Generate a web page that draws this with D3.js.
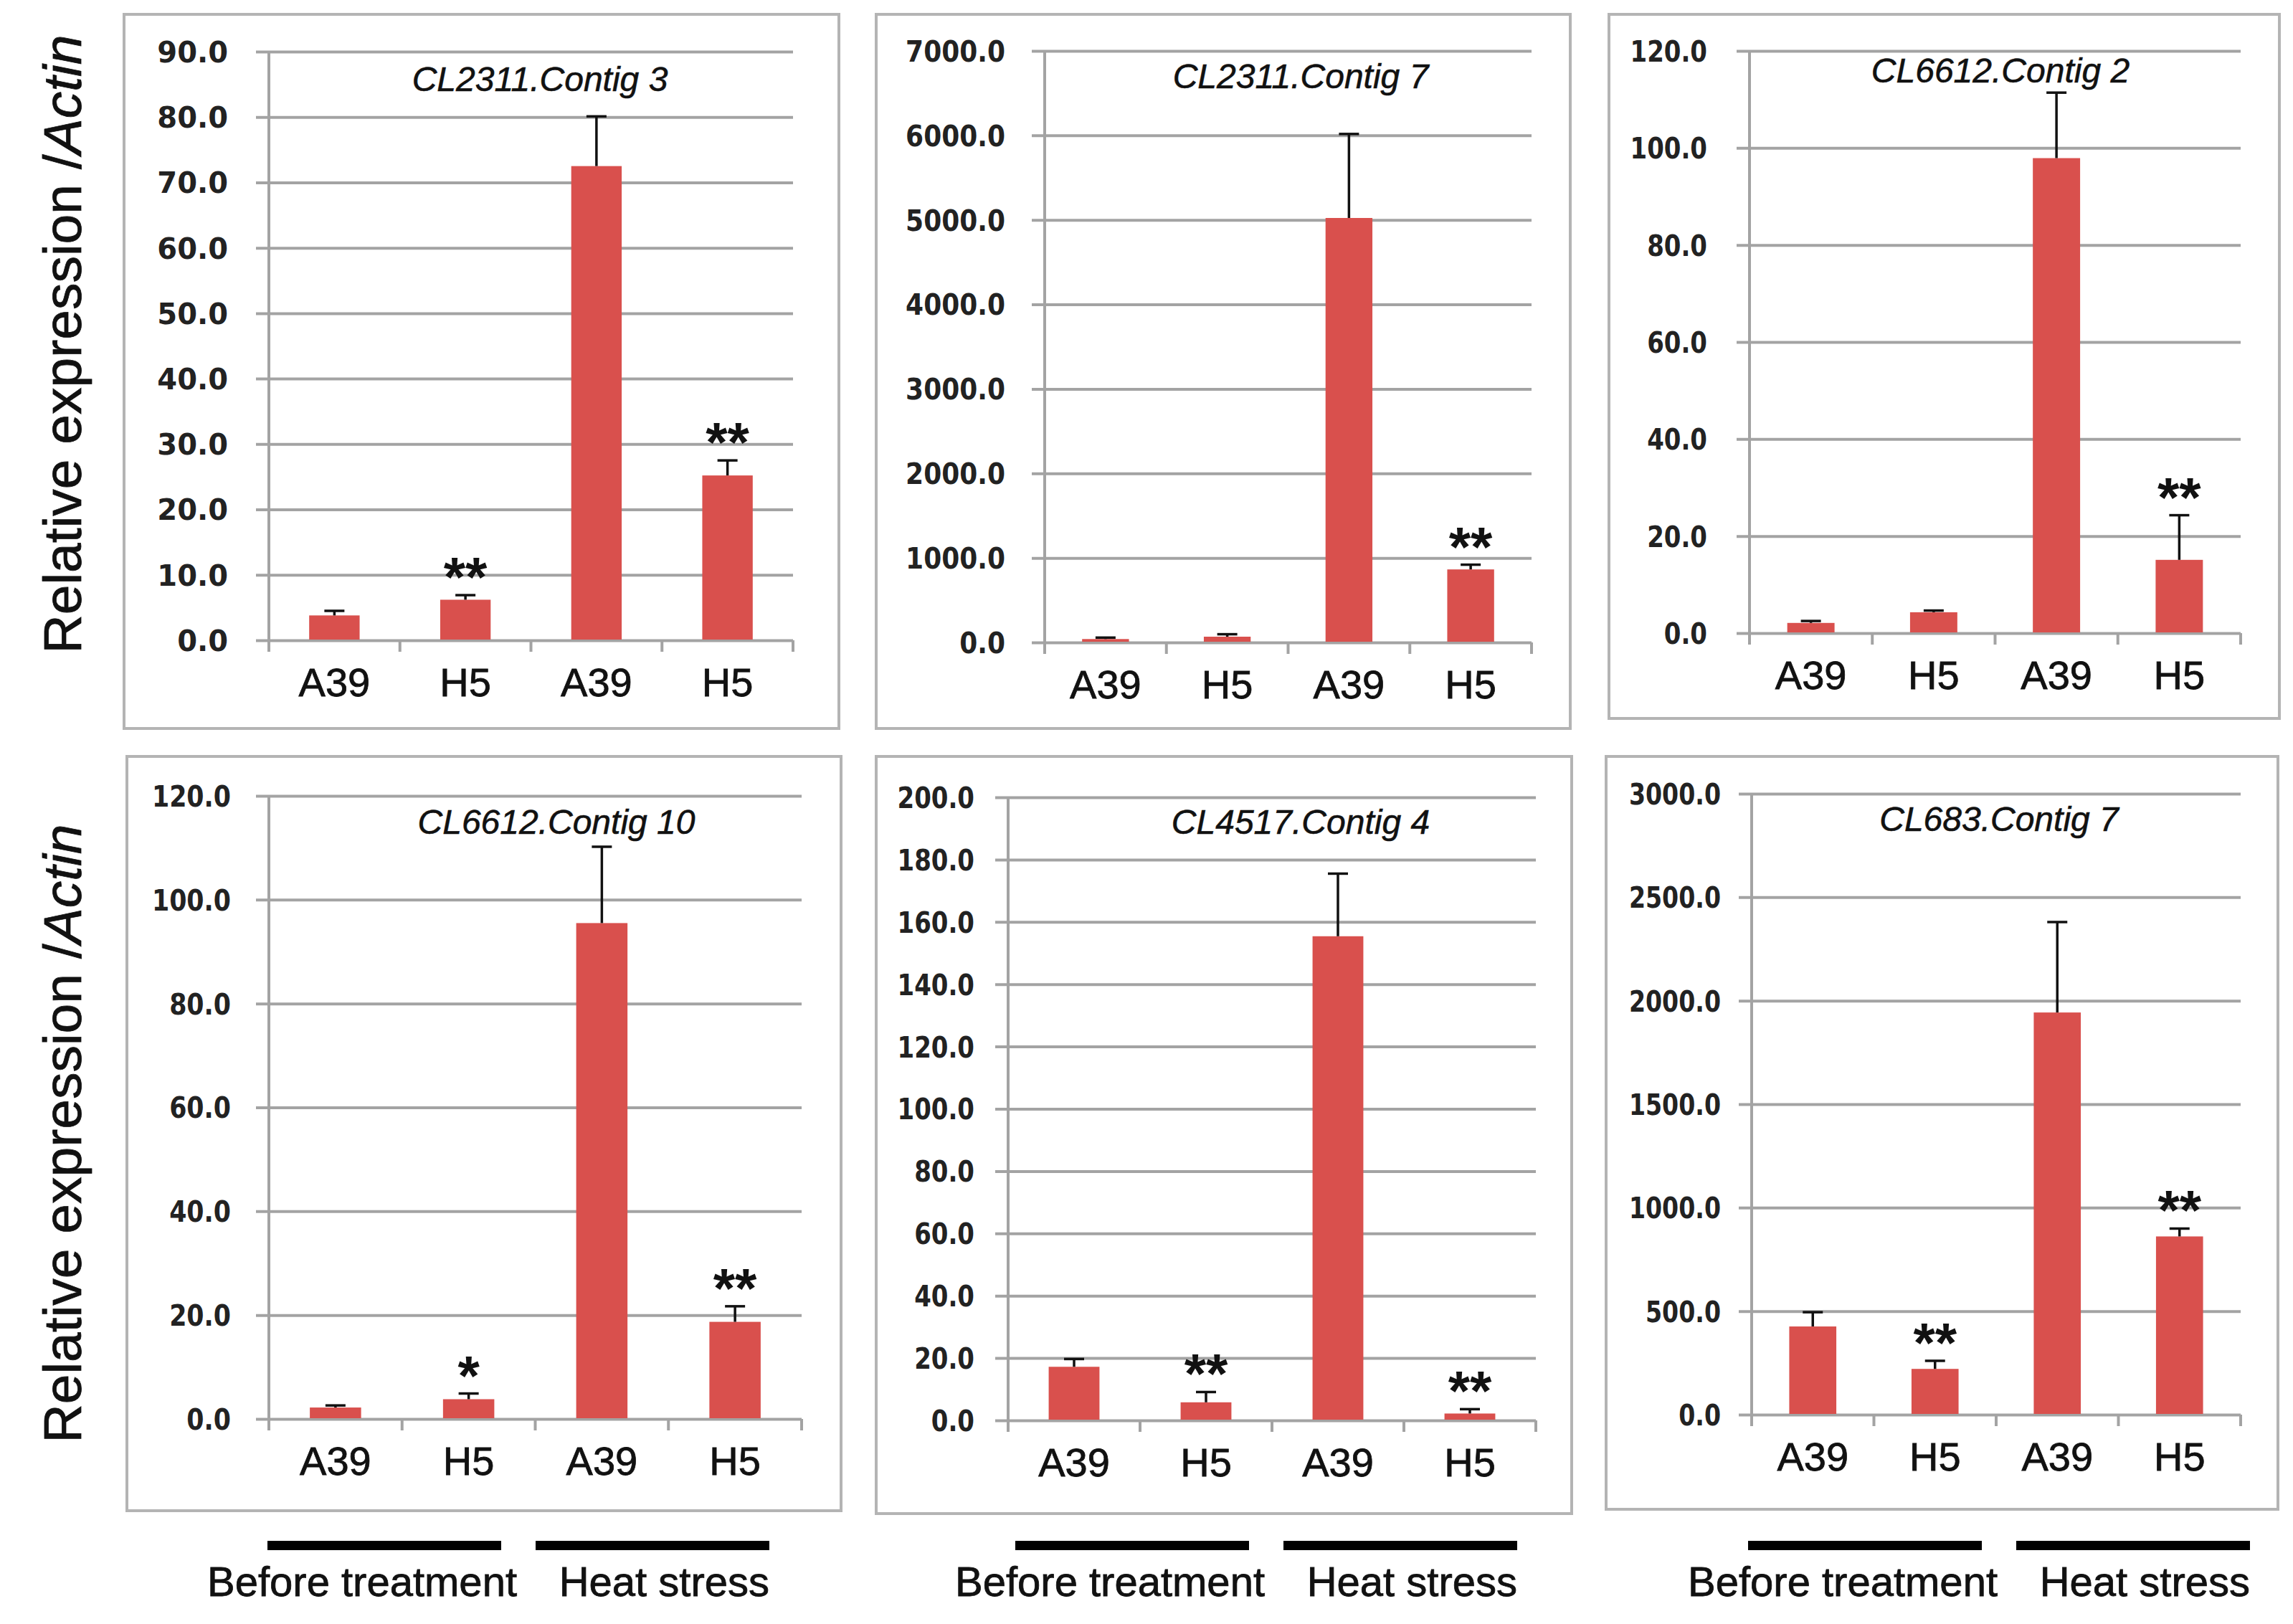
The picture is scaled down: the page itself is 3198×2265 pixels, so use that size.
<!DOCTYPE html>
<html>
<head>
<meta charset="utf-8">
<script src="https://cdn.jsdelivr.net/npm/d3@7"></script>
<style>
	body { margin: 0; background: #fff; }
	svg { display: block; }
</style>
</head>
<body>
<div id="chart"></div>
<script>
const w = 3198;
const h = 2265;

// data
const categories = ['A39', 'H5', 'A39', 'H5'];
const groups = ['Before treatment', 'Heat stress'];
const genes = [
	'CL2311.Contig 3',
	'CL2311.Contig 7',
	'CL6612.Contig 2',
	'CL6612.Contig 10',
	'CL4517.Contig 4',
	'CL683.Contig 7',
];
const means = [
	[3.8, 6.2, 72.5, 25.2],
	[40, 68, 5023, 864],
	[2.1, 4.3, 97.9, 15.1],
	[2.2, 3.8, 95.5, 18.7],
	[17.2, 5.8, 155.4, 2.2],
	[426, 221, 1943, 861],
];
const errors = [
	[0.7, 0.7, 7.6, 2.3],
	[17, 29, 994, 56],
	[0.4, 0.35, 13.5, 9.2],
	[0.4, 1.1, 14.7, 3.0],
	[2.5, 3.3, 20.1, 1.4],
	[69, 39, 437, 38],
];
const stars = [
	['', '**', '', '**'],
	['', '', '', '**'],
	['', '', '', '**'],
	['', '*', '', '**'],
	['', '**', '', '**'],
	['', '**', '', '**'],
];
const yMax = [90, 7000, 120, 120, 200, 3000];
const yStep = [10, 1000, 20, 20, 20, 500];

// panel placement (tick labels are squeezed a little differently per panel)
const layout = [
	{x0: 375, x1: 1106, yTop: 72, yZero: 893, box: [173, 20, 1170, 1016], tx: 753, ty: 127, lg: 57, sx: 1},
	{x0: 1457, x1: 2136, yTop: 71, yZero: 896, box: [1222, 20, 2190, 1016], tx: 1814, ty: 123, lg: 55, sx: 0.9},
	{x0: 2440, x1: 3125, yTop: 71, yZero: 883, box: [2244, 20, 3179, 1002], tx: 2790, ty: 115, lg: 59, sx: 0.85},
	{x0: 375, x1: 1118, yTop: 1110, yZero: 1979, box: [177, 1055, 1173, 2107], tx: 776, ty: 1163, lg: 53, sx: 0.87},
	{x0: 1406, x1: 2142, yTop: 1112, yZero: 1981, box: [1222, 1055, 2192, 2111], tx: 1814, ty: 1163, lg: 47, sx: 0.85},
	{x0: 2443, x1: 3125, yTop: 1107, yZero: 1973, box: [2240, 1055, 3177, 2105], tx: 2788, ty: 1159, lg: 43, sx: 0.83},
];
const groupBarStarts = [373, 1416, 2438];

const barColor = '#d9504d';
const gridColor = '#a3a3a3';

const svg = d3
	.select('#chart')
	.append('svg')
	.attr('width', w)
	.attr('height', h)
	.attr('viewBox', `0 0 ${w} ${h}`)
	.style('background-color', '#fff');

genes.forEach((gene, p) => {
	const L = layout[p];
	const g = svg.append('g');

	// frame
	g.append('rect')
		.attr('x', L.box[0])
		.attr('y', L.box[1])
		.attr('width', L.box[2] - L.box[0])
		.attr('height', L.box[3] - L.box[1])
		.attr('fill', 'none')
		.attr('stroke', '#b4b4b4')
		.attr('stroke-width', 4);

	const x = d3
		.scaleBand()
		.domain(d3.range(categories.length))
		.range([L.x0, L.x1])
		.paddingInner(0.615)
		.paddingOuter(0.3075);

	const y = d3.scaleLinear().domain([0, yMax[p]]).range([L.yZero, L.yTop]);
	const ticks = d3.range(0, yMax[p] + yStep[p] / 2, yStep[p]);

	// y axis with gridlines
	const yAxis = d3
		.axisLeft(y)
		.tickValues(ticks)
		.tickFormat(d3.format('.1f'))
		.tickSize(-(L.x1 - L.x0))
		.tickPadding(0);

	const ya = g
		.append('g')
		.attr('transform', `translate(${L.x0},0)`)
		.call(yAxis);
	ya.select('.domain').remove();
	ya.selectAll('.tick line')
		.attr('x1', -18)
		.attr('stroke', gridColor)
		.attr('stroke-width', 4);
	ya.selectAll('.tick text')
		.attr('x', 0)
		.attr('dy', '0.36em')
		.attr('transform', `translate(${-L.lg},0) scale(${L.sx},1)`)
		.style('font-family', '"DejaVu Sans", Verdana, sans-serif')
		.style('font-weight', 'bold')
		.style('font-size', '40px')
		.attr('fill', '#222');

	// vertical axis line
	g.append('line')
		.attr('x1', L.x0)
		.attr('x2', L.x0)
		.attr('y1', y(0) + 16)
		.attr('y2', y(yMax[p]))
		.attr('stroke', gridColor)
		.attr('stroke-width', 4);

	// x axis ticks at band boundaries
	g.selectAll('.xtick')
		.data(d3.range(categories.length + 1))
		.enter()
		.append('line')
		.attr('x1', i => L.x0 + i * x.step())
		.attr('x2', i => L.x0 + i * x.step())
		.attr('y1', y(0))
		.attr('y2', y(0) + 16)
		.attr('stroke', gridColor)
		.attr('stroke-width', 4);

	// bars
	g.selectAll('.bar')
		.data(means[p])
		.enter()
		.append('rect')
		.attr('x', (d, i) => x(i))
		.attr('y', d => y(d))
		.attr('width', x.bandwidth())
		.attr('height', d => y(0) - y(d) - 1)
		.attr('fill', barColor);

	// error bars (upper only)
	const cx = i => x(i) + x.bandwidth() / 2;
	const errG = g.append('g').attr('stroke', '#111').attr('stroke-width', 3.5);
	means[p].forEach((m, i) => {
		const top = y(m + errors[p][i]);
		errG.append('line')
			.attr('x1', cx(i)).attr('x2', cx(i))
			.attr('y1', y(m)).attr('y2', top);
		errG.append('line')
			.attr('x1', cx(i) - 14).attr('x2', cx(i) + 14)
			.attr('y1', top).attr('y2', top);
	});

	// significance marks
	g.selectAll('.star')
		.data(stars[p])
		.enter()
		.append('text')
		.attr('x', (d, i) => cx(i))
		.attr('y', (d, i) => y(means[p][i] + errors[p][i]) + 2)
		.attr('text-anchor', 'middle')
		.style('font-family', '"Liberation Sans", Arial, sans-serif')
		.style('font-weight', 'bold')
		.style('font-size', '78px')
		.attr('fill', '#111')
		.text(d => d);

	// category labels
	g.selectAll('.cat')
		.data(categories)
		.enter()
		.append('text')
		.attr('x', (d, i) => cx(i))
		.attr('y', y(0) + 78)
		.attr('text-anchor', 'middle')
		.style('font-family', '"Liberation Sans", Arial, sans-serif')
		.style('font-size', '56px')
		.attr('fill', '#111')
		.attr('stroke', '#111')
		.attr('stroke-width', 0.8)
		.text(d => d);

	// gene title
	g.append('text')
		.attr('x', L.tx)
		.attr('y', L.ty)
		.attr('text-anchor', 'middle')
		.style('font-family', '"Liberation Sans", Arial, sans-serif')
		.style('font-style', 'italic')
		.style('font-size', '48px')
		.attr('fill', '#111')
		.attr('stroke', '#111')
		.attr('stroke-width', 0.6)
		.text(gene);
});

// y axis titles, one per row
[480, 1581].forEach(cy => {
	const t = svg
		.append('text')
		.attr('transform', `translate(113, ${cy}) rotate(-90)`)
		.attr('text-anchor', 'middle')
		.style('font-family', '"Liberation Sans", Arial, sans-serif')
		.style('font-size', '75px')
		.attr('fill', '#111')
		.attr('stroke', '#111')
		.attr('stroke-width', 0.8);
	t.append('tspan').text('Relative expression /');
	t.append('tspan').style('font-style', 'italic').text('Actin');
});

// treatment group markers under each column
const barLen = 326;
const barGap = 48;
groupBarStarts.forEach(start => {
	groups.forEach((label, k) => {
		const bx = start + k * (barLen + barGap);
		svg.append('rect')
			.attr('x', bx)
			.attr('y', 2149)
			.attr('width', barLen)
			.attr('height', 13)
			.attr('fill', '#000');
		svg.append('text')
			.attr('x', k === 0 ? bx + barLen + 22 : bx + barLen)
			.attr('y', 2226)
			.attr('text-anchor', 'end')
			.style('font-family', '"Liberation Sans", Arial, sans-serif')
			.style('font-size', '58px')
			.attr('fill', '#111')
			.attr('stroke', '#111')
			.attr('stroke-width', 0.8)
			.text(label);
	});
});
</script>
</body>
</html>
